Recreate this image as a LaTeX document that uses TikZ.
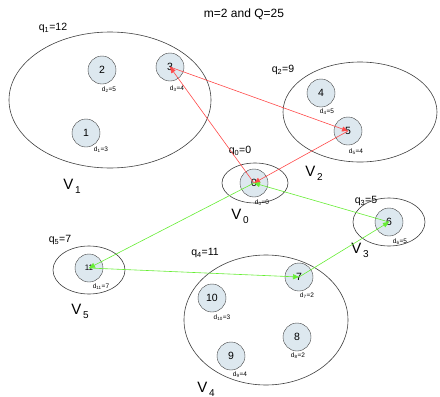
\documentclass[tikz,border=0pt]{standalone}
\usepackage{fontspec}
\setmainfont{Liberation Sans}
\usetikzlibrary{arrows.meta}
\definecolor{nodefill}{HTML}{DDE8EF}
\definecolor{redline}{HTML}{FF4A4A}
\definecolor{greenline}{HTML}{66EE33}
\newcommand{\Vlab}[1]{{\fontsize{15}{15}\selectfont V}\,{\fontsize{10}{10}\selectfont\raisebox{-4pt}{#1}}}
\newcommand{\qlab}[2]{{\fontsize{10.5}{10.5}\selectfont q\textsubscript{#1}=#2}}
\newcommand{\dlab}[2]{{\fontsize{6.5}{6.5}\selectfont d\textsubscript{#1}=#2}}
\begin{document}
\begin{tikzpicture}[x=1pt,y=-1pt,
  cust/.style={circle,draw=black!75,fill=nodefill,minimum size=28pt,inner sep=0pt,font=\fontsize{10.5}{10.5}\selectfont},
  grp/.style={draw=black!75,line width=0.6pt},
  redarr/.style={draw=redline,line width=0.6pt,-{Triangle[length=6pt,width=5pt]}},
  greenarr/.style={draw=greenline,line width=0.6pt,-{Triangle[length=6pt,width=5pt]}},
  lab/.style={inner sep=0pt}]
\useasboundingbox (0,0) rectangle (440,397);
\fill[white] (0,0) rectangle (440,397);
% title
\node[lab,font=\fontsize{12}{12}\selectfont] (title) at (244,14) {m=2 and Q=25};
% group ellipses
\draw[grp] (110,100) ellipse [x radius=101, y radius=68];
\draw[grp] (360,112) ellipse [x radius=77, y radius=50];
\draw[grp] (255,183) ellipse [x radius=33, y radius=20];
\draw[grp] (389,222) ellipse [x radius=36, y radius=24];
\draw[grp] (266,320) ellipse [x radius=82, y radius=65];
\draw[grp] (89,270) ellipse [x radius=36, y radius=24];
% q labels
\node[lab] (q1) at (53,28) {\qlab{1}{12}};
\node[lab] (q2) at (283,70) {\qlab{2}{9}};
\node[lab] (q0) at (240,151) {\qlab{0}{0}};
\node[lab] (q3) at (366,201) {\qlab{3}{5}};
\node[lab] (q4) at (205,253) {\qlab{4}{11}};
\node[lab] (q5) at (60,240) {\qlab{5}{7}};
% V labels
\node[lab] (V1) at (72,186) {\Vlab{1}};
\node[lab] (V2) at (314,173) {\Vlab{2}};
\node[lab] (V0) at (240,216) {\Vlab{0}};
\node[lab] (V3) at (360,250) {\Vlab{3}};
\node[lab] (V5) at (80,311) {\Vlab{5}};
\node[lab] (V4) at (206,389) {\Vlab{4}};
% customers
\node[cust] (n2) at (102,70) {2};
\node[cust] (n3) at (170,67) {3};
\node[cust] (n1) at (86,133) {1};
\node[cust] (n4) at (321,93) {4};
\node[cust] (n5) at (348,131) {5};
\node[cust] (n0) at (254,183) {0};
\node[cust] (n6) at (389,222) {6};
\node[cust] (n11) at (89,268) {\fontsize{8}{8}\selectfont 11};
\node[cust] (n7) at (299,277) {7};
\node[cust] (n10) at (212,298) {10};
\node[cust] (n8) at (297,337) {8};
\node[cust] (n9) at (231,356) {9};
% demand labels
\node[lab] (d2) at (109,90) {\dlab{2}{5}};
\node[lab] (d3) at (177,89) {\dlab{3}{4}};
\node[lab] (d1) at (101,150) {\dlab{1}{3}};
\node[lab] (d4) at (327,112) {\dlab{4}{5}};
\node[lab] (d5) at (356,152) {\dlab{5}{4}};
\node[lab] (d0) at (262,203) {\dlab{0}{0}};
\node[lab] (d6) at (400,242) {\dlab{6}{5}};
\node[lab] (d11) at (101,287) {\dlab{11}{7}};
\node[lab] (d7) at (307,296) {\dlab{7}{2}};
\node[lab] (d10) at (222,318) {\dlab{10}{3}};
\node[lab] (d8) at (298,356) {\dlab{8}{2}};
\node[lab] (d9) at (240,375) {\dlab{9}{4}};
% routes
\draw[redarr] (n0.center) -- (n3.center);
\draw[redarr] (n3.center) -- (n5.center);
\draw[redarr] (n5.center) -- (n0.center);
\draw[greenarr] (n0.center) -- (n11.center);
\draw[greenarr] (n11.center) -- (n7.center);
\draw[greenarr] (n7.center) -- (n6.center);
\draw[greenarr] (n6.center) -- (n0.center);
\end{tikzpicture}
\end{document}
